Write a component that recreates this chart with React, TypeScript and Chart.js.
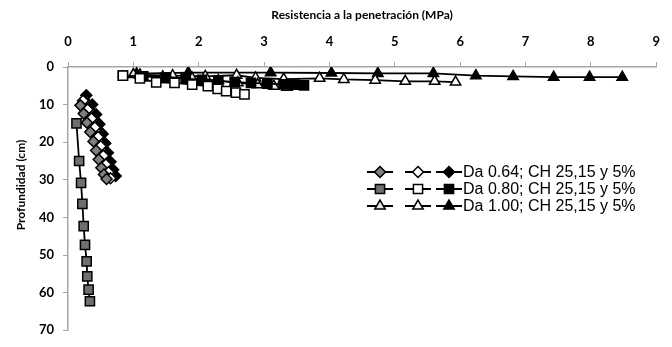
import React, { useEffect, useRef } from 'react';
import { Chart, registerables } from 'chart.js';

Chart.register(...registerables);

// ---- Axes ----
const xMin = 0;
const xMax = 9;
const xStep = 1;
const yMin = 0;
const yMax = 70;
const yStep = 10;
const xTitle = 'Resistencia a la penetración (MPa)';
const yTitle = 'Profundidad (cm)';

// ---- Series names (legend) ----
const seriesNames = [
  '', '', 'Da 0.64; CH 25,15 y 5%',
  '', '', 'Da 0.80; CH 25,15 y 5%',
  '', '', 'Da 1.00; CH 25,15 y 5%',
];

// ---- Da 0.64 (diamonds) ----
const d1X = [0.19, 0.24, 0.29, 0.34, 0.39, 0.43, 0.47, 0.51, 0.55, 0.59];
const d1Y = [10.2, 12.4, 14.8, 17.3, 19.8, 22.2, 24.6, 26.8, 28.6, 29.8];
const d2X = [0.23, 0.3, 0.36, 0.41, 0.46, 0.5, 0.54, 0.58, 0.62, 0.65];
const d2Y = [9.0, 11.3, 13.7, 16.1, 18.6, 21.1, 23.6, 25.9, 28.0, 29.6];
const d3X = [0.28, 0.37, 0.43, 0.48, 0.53, 0.57, 0.61, 0.65, 0.69, 0.73];
const d3Y = [7.5, 10.0, 12.6, 15.2, 17.8, 20.3, 22.8, 25.2, 27.3, 29.0];

// ---- Da 0.80 (squares) ----
const s1X = [0.13, 0.17, 0.2, 0.22, 0.24, 0.26, 0.285, 0.295, 0.315, 0.335];
const s1Y = [15, 25, 30.8, 36.4, 42.3, 47.3, 51.7, 55.7, 59.2, 62.3];
const s2X = [0.84, 1.1, 1.35, 1.63, 1.9, 2.14, 2.29, 2.42, 2.57, 2.7];
const s2Y = [2.3, 3.0, 4.1, 4.2, 4.7, 5.1, 5.8, 6.4, 6.8, 7.3];
const s3X = [0.84, 1.15, 1.5, 1.8, 2.05, 2.3, 2.55, 2.8, 3.05, 3.3, 3.46, 3.61];
const s3Y = [2.3, 2.5, 2.8, 3.1, 3.4, 3.7, 4.0, 4.2, 4.4, 4.6, 4.7, 4.9];

// ---- Da 1.00 (triangles) ----
const t1X = [1.0, 1.45, 1.9, 2.3, 2.6, 2.9, 3.15, 3.35];
const t1Y = [2.0, 2.6, 3.0, 3.6, 4.2, 4.7, 5.1, 5.4];
const t2X = [1.1, 1.6, 2.1, 2.58, 2.87, 3.3, 3.85, 4.22, 4.7, 5.16, 5.61, 5.93];
const t2Y = [2.1, 2.3, 2.5, 2.2, 2.9, 3.2, 3.0, 3.3, 3.5, 3.8, 3.8, 4.0];
const t3X = [1.05, 1.84, 3.1, 4.03, 4.74, 5.59, 6.24, 6.81, 7.43, 7.98, 8.48];
const t3Y = [1.8, 1.5, 1.5, 1.6, 1.7, 1.7, 2.3, 2.5, 2.7, 2.7, 2.7];

const seriesX = [d1X, d2X, d3X, s1X, s2X, s3X, t1X, t2X, t3X];
const seriesY = [d1Y, d2Y, d3Y, s1Y, s2Y, s3Y, t1Y, t2Y, t3Y];
const seriesStyle = ['rectRot', 'rectRot', 'rectRot', 'rect', 'rect', 'rect', 'triangle', 'triangle', 'triangle'];
const seriesFill = ['#7f7f7f', '#ffffff', '#000000', '#6f6f6f', '#ffffff', '#000000', '#e6e6e6', '#ffffff', '#000000'];
const seriesRadius = [5.5, 5.5, 5.5, 6.5, 6.5, 6.5, 6, 6, 6];

const AXIS_GRAY = '#a6a6a6';

function drawMarker(ctx: CanvasRenderingContext2D, style: string, x: number, y: number, r: number, fill: string) {
  ctx.beginPath();
  if (style === 'rect') {
    const s = r * Math.SQRT1_2;
    ctx.rect(x - s, y - s, 2 * s, 2 * s);
  } else if (style === 'rectRot') {
    ctx.moveTo(x, y - r);
    ctx.lineTo(x + r, y);
    ctx.lineTo(x, y + r);
    ctx.lineTo(x - r, y);
    ctx.closePath();
  } else {
    ctx.moveTo(x, y - r);
    ctx.lineTo(x + r * 0.866, y + r * 0.5);
    ctx.lineTo(x - r * 0.866, y + r * 0.5);
    ctx.closePath();
  }
  ctx.fillStyle = fill;
  ctx.fill();
  ctx.lineWidth = 1.5;
  ctx.strokeStyle = '#000';
  ctx.stroke();
}

const extrasPlugin = {
  id: 'extras',
  afterDraw(chart: any) {
    const ctx: CanvasRenderingContext2D = chart.ctx;
    // y-axis title
    ctx.save();
    ctx.translate(21, 185);
    ctx.rotate(-Math.PI / 2);
    ctx.font = 'bold 12px Lato';
    ctx.fillStyle = '#000';
    ctx.textAlign = 'center';
    ctx.textBaseline = 'middle';
    ctx.fillText(yTitle, 0, 0);
    ctx.restore();

    // legend
    const colX = [380, 418, 449];
    const rowY = [172, 189, 206];
    ctx.save();
    chart.data.datasets.forEach((ds: any, i: number) => {
      const cx = colX[i % 3];
      const cy = rowY[Math.floor(i / 3)];
      ctx.beginPath();
      ctx.moveTo(cx - 13, cy);
      ctx.lineTo(cx + 13, cy);
      ctx.lineWidth = 2;
      ctx.strokeStyle = '#000';
      ctx.stroke();
      drawMarker(ctx, ds.pointStyle, cx, cy, ds.pointRadius, ds.pointBackgroundColor);
      if (ds.label) {
        ctx.font = '16px "Liberation Sans", Arial, sans-serif';
        ctx.fillStyle = '#000';
        ctx.textAlign = 'left';
        ctx.textBaseline = 'middle';
        ctx.fillText(ds.label, 463, cy + 1);
      }
    });
    ctx.restore();
  },
};

export default function App() {
  const canvasRef = useRef<HTMLCanvasElement>(null);

  useEffect(() => {
    document.body.style.margin = '0';
    const canvas = canvasRef.current;
    if (!canvas) return;
    const datasets = seriesX.map((xs, i) => ({
      label: seriesNames[i],
      data: xs.map((x, j) => ({ x, y: seriesY[i][j] })),
      showLine: true,
      borderColor: '#000',
      borderWidth: 1.8,
      backgroundColor: seriesFill[i],
      pointStyle: seriesStyle[i],
      pointRadius: seriesRadius[i],
      pointBackgroundColor: seriesFill[i],
      pointBorderColor: '#000',
      pointBorderWidth: 1.5,
    }));
    const tickFont = { family: 'Lato', weight: 'bold' as const, size: 13 };
    const titleFont = { family: 'Lato', weight: 'bold' as const, size: 12 };
    const chart = new Chart(canvas, {
      type: 'scatter',
      data: { datasets },
      options: {
        animation: false,
        responsive: false,
        layout: { padding: { left: 0, top: 0, right: 13, bottom: 10 } },
        plugins: { legend: { display: false }, tooltip: { enabled: false } },
        scales: {
          x: {
            type: 'linear',
            position: 'top',
            min: xMin,
            max: xMax,
            ticks: { stepSize: xStep, padding: 12, color: '#000', font: tickFont },
            grid: { drawOnChartArea: false, drawTicks: true, tickLength: 5, color: AXIS_GRAY, lineWidth: 1 },
            border: { color: AXIS_GRAY, width: 1.5 },
            title: { display: true, text: xTitle, color: '#000', font: titleFont, padding: { top: 8, bottom: 0 } },
            afterFit: (s: any) => { s.height = 67; },
          },
          y: {
            type: 'linear',
            reverse: true,
            min: yMin,
            max: yMax,
            ticks: { stepSize: yStep, padding: 9, color: '#000', font: tickFont },
            grid: { drawOnChartArea: false, drawTicks: true, tickLength: 5, color: AXIS_GRAY, lineWidth: 1 },
            border: { color: AXIS_GRAY, width: 1.5 },
            afterFit: (s: any) => { s.width = 68; },
          },
        },
      },
      plugins: [extrasPlugin],
    } as any);
    return () => chart.destroy();
  }, []);

  return (
    <div style={{ width: 672, height: 347 }}>
      <canvas ref={canvasRef} width={672} height={347} style={{ width: 672, height: 347 }} />
    </div>
  );
}
